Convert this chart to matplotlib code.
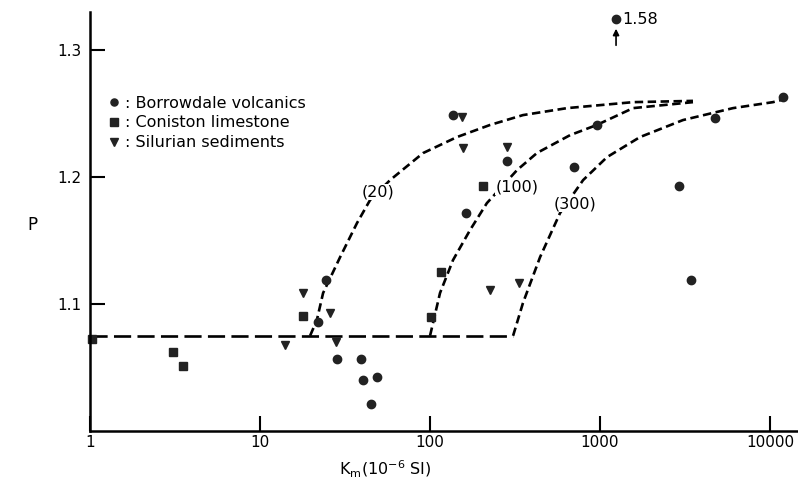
import numpy as np
import matplotlib.pyplot as plt

# Data: Km (10^-6 SI) vs P
volc_k = [1242, 11900, 4745, 960, 136, 284, 703, 2915, 163, 3430,
          24.4, 21.9, 28.4, 39.3, 40.4, 49, 44.7]
volc_p = [1.3244, 1.263, 1.2465, 1.241, 1.249, 1.2126, 1.208, 1.193, 1.172, 1.119,
          1.119, 1.0858, 1.0567, 1.0567, 1.040, 1.0425, 1.021]

lime_k = [1.03, 3.06, 3.52, 18, 116, 102, 205]
lime_p = [1.0724, 1.0622, 1.051, 1.0906, 1.125, 1.0898, 1.193]

silu_k = [18, 25.8, 14, 28, 224, 333, 156, 284, 154]
silu_p = [1.1087, 1.093, 1.0677, 1.070, 1.111, 1.1165, 1.223, 1.224, 1.247]

# dashed model curves
base_k = [1, 308]
base_p = [1.075, 1.075]

c20_k = [19.7, 21.6, 23.5, 29.6, 37.2, 44.4, 58.2, 91, 144, 225, 352, 640, 1564, 3520]
c20_p = [1.075, 1.0874, 1.1087, 1.137, 1.1638, 1.1819, 1.1976, 1.2189, 1.2315,
         1.241, 1.2488, 1.2543, 1.259, 1.260]

c100_k = [100, 114.5, 136.5, 172, 216, 325, 426, 666, 956, 1564, 3520]
c100_p = [1.075, 1.1087, 1.1346, 1.1583, 1.1795, 1.2055, 1.219, 1.233, 1.241,
          1.2543, 1.259]

c300_k = [308, 352, 444, 582, 795, 1099, 1718, 3076, 6058, 10400, 11900]
c300_p = [1.075, 1.1008, 1.137, 1.1717, 1.1976, 1.2157, 1.2315, 1.2449, 1.2543,
          1.259, 1.261]

fig = plt.figure(figsize=(7.98, 4.79), dpi=100)
ax = fig.add_axes([90 / 798, 48 / 479, 708 / 798, 419 / 479])

dash_short = (3.2, 1.7)
dash_long = (6.5, 2.4)
ax.plot(base_k, base_p, color='black', lw=1.9, dashes=dash_long)
for k, p in [(c20_k, c20_p), (c100_k, c100_p), (c300_k, c300_p)]:
    ax.plot(k, p, color='black', lw=1.9, dashes=dash_short)

ax.plot(volc_k, volc_p, 'o', color='#222222', ms=6, ls='none',
        label=': Borrowdale volcanics', clip_on=False)
ax.plot(lime_k, lime_p, 's', color='#222222', ms=6, ls='none',
        label=': Coniston limestone', clip_on=False)
ax.plot(silu_k, silu_p, 'v', color='#222222', ms=6, ls='none',
        label=': Silurian sediments', clip_on=False)

# curve labels
for txt, k, p in [('(20)', 49.4, 1.188), ('(100)', 325, 1.192), ('(300)', 713, 1.179)]:
    ax.text(k, p, txt, ha='center', va='center', fontsize=11.5,
            bbox=dict(facecolor='white', edgecolor='none', pad=0.5))

# off-scale point
ax.text(1347, 1.3244, '1.58', ha='left', va='center', fontsize=11.5)
ax.annotate('', xy=(1242, 1.319), xytext=(1242, 1.3016),
            arrowprops=dict(arrowstyle='-|>', color='black', lw=1.2, mutation_scale=9))

ax.set_xscale('log')
ax.set_xlim(1, 14600)
ax.set_ylim(1.0, 1.33)
ax.set_xticks([1, 10, 100, 1000, 10000])
ax.set_xticklabels(['1', '10', '100', '1000', '10000'])
ax.xaxis.set_minor_locator(plt.NullLocator())
ax.set_yticks([1.1, 1.2, 1.3])
ax.set_yticklabels(['1.1', '1.2', '1.3'])
ax.tick_params(axis='both', direction='in', length=11, width=1.5, labelsize=11)
ax.tick_params(axis='x', pad=3)
ax.tick_params(axis='y', pad=6)
for s in ['top', 'right']:
    ax.spines[s].set_visible(False)
for s in ['left', 'bottom']:
    ax.spines[s].set_linewidth(1.8)

ax.set_xlabel(r'K$_{\rm m}$(10$^{-6}$ SI)', fontsize=11.5)
ax.xaxis.set_label_coords((385 - 90) / 708, -(467 - 431) / 419 - 0.005)
ax.xaxis.label.set_va('center')
ax.set_ylabel('P', fontsize=12, rotation=0)
ax.yaxis.set_label_coords((32 - 90) / 708, (431 - 225) / 419)
ax.yaxis.label.set_va('center')
ax.yaxis.label.set_ha('center')

ax.legend(loc='upper left', bbox_to_anchor=(0.0, 0.835), frameon=False,
          fontsize=11.5, handletextpad=0.1, labelspacing=0.3, handlelength=1.2,
          markerscale=0.85)

plt.savefig('out.png', dpi=100)
